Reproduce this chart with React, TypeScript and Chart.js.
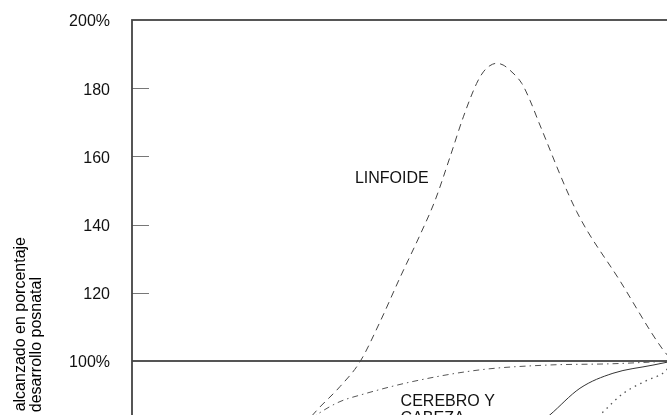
import React, { useEffect, useRef } from "react";
import { Chart, registerables } from "chart.js";

Chart.register(...registerables);

// ---- Data (age in years, value in % of postnatal growth) ----
const linfoideAges = [0, 2, 4, 5.5, 6.84, 7.69, 8.43, 9.17, 9.91, 10.65, 11.2, 11.76, 12.25, 12.74, 12.99, 13.23, 13.48, 13.72, 13.97, 14.41, 14.71, 15.08, 16.44, 18.04, 19.64, 20];
const linfoideValues = [5, 30, 56, 73, 85.6, 92.5, 99.8, 111.5, 124.5, 137, 147, 159.9, 171.6, 181.4, 184.8, 186.6, 187.3, 186.8, 185.3, 181.4, 176.5, 169.2, 143.8, 123.5, 103.2, 100];

const cerebroAges = [0, 2, 4, 6, 6.9, 7.69, 8.43, 10.39, 12.86, 15.34, 17.78, 20];
const cerebroValues = [25, 58, 72, 79, 84.6, 88.1, 90, 94, 97.4, 98.8, 99.2, 100];

const generalAges = [0, 2, 6, 10, 12, 14, 15.45, 16.56, 17.78, 19.26, 20];
const generalValues = [5, 30, 45, 55, 62, 75, 84.2, 92, 96.4, 98.8, 100];

const reproductivoAges = [0, 10, 12, 14, 16, 17.42, 18.16, 19.03, 19.7, 20];
const reproductivoValues = [10, 12, 20, 50, 74, 85.1, 90.5, 94.3, 96.9, 100];

const yMin = 0;
const yMax = 200;
const yStep = 20;
const referenceValue = 100;
const xMin = 0;
const xMax = 20;

const yTitleLines = ["Tamaño alcanzado en porcentaje", "del desarrollo posnatal"];

// curve labels: text, anchor age, anchor value (baseline, left aligned)
const curveLabels = [
  { text: "LINFOIDE", age: 8.24, value: 152.1 },
  { text: "CEREBRO Y", age: 9.93, value: 86.8 },
  { text: "CABEZA", age: 9.93, value: 81.8 },
];

const FONT = "'Liberation Sans', Arial, Helvetica, sans-serif";

function toPoints(xs: number[], ys: number[]) {
  return xs.map((x, i) => ({ x, y: ys[i] }));
}

const decorPlugin = {
  id: "scammonDecor",
  beforeDatasetsDraw(chart: any) {
    const { ctx, chartArea, scales } = chart;
    const y = scales.y;
    ctx.save();
    // inner tick marks
    ctx.strokeStyle = "#777";
    ctx.lineWidth = 1;
    y.ticks.forEach((t: any) => {
      if (t.value % 100 === 0) return;
      const py = Math.round(y.getPixelForValue(t.value)) + 0.5;
      ctx.beginPath();
      ctx.moveTo(chartArea.left, py);
      ctx.lineTo(chartArea.left + 17, py);
      ctx.stroke();
    });
    // 100% reference line
    const ry = y.getPixelForValue(referenceValue);
    ctx.strokeStyle = "#555";
    ctx.lineWidth = 1.8;
    ctx.beginPath();
    ctx.moveTo(chartArea.left, ry);
    ctx.lineTo(chartArea.right, ry);
    ctx.stroke();
    ctx.restore();
  },
  afterDatasetsDraw(chart: any) {
    const { ctx, chartArea, scales } = chart;
    const x = scales.x;
    const y = scales.y;
    ctx.save();
    // frame
    ctx.strokeStyle = "#444";
    ctx.lineWidth = 1.8;
    ctx.strokeRect(chartArea.left, chartArea.top, chartArea.right - chartArea.left, chartArea.bottom - chartArea.top);
    // curve labels
    ctx.fillStyle = "#111";
    ctx.font = `16px ${FONT}`;
    ctx.textAlign = "left";
    ctx.textBaseline = "alphabetic";
    curveLabels.forEach((l) => {
      ctx.fillText(l.text, x.getPixelForValue(l.age), y.getPixelForValue(l.value));
    });
    // y axis title (rotated), anchored at the end of each line
    ctx.fillStyle = "#000";
    ctx.font = `16px ${FONT}`;
    ctx.textAlign = "right";
    ctx.textBaseline = "alphabetic";
    const ends = [chartArea.top + 217, chartArea.top + 257];
    yTitleLines.forEach((line, i) => {
      ctx.save();
      ctx.translate(25 + i * 16, ends[i]);
      ctx.rotate(-Math.PI / 2);
      ctx.fillText(line, 0, 0);
      ctx.restore();
    });
    ctx.restore();
  },
};

export default function App() {
  const ref = useRef<HTMLCanvasElement | null>(null);

  useEffect(() => {
    if (!ref.current) return;
    const lineBase = {
      pointRadius: 0,
      fill: false,
      cubicInterpolationMode: "monotone" as const,
      borderWidth: 1,
    };
    const chart = new Chart(ref.current, {
      type: "line",
      data: {
        datasets: [
          {
            ...lineBase,
            label: "Linfoide",
            data: toPoints(linfoideAges, linfoideValues),
            borderColor: "#444",
            borderDash: [7, 5],
          },
          {
            ...lineBase,
            label: "Cerebro y cabeza",
            data: toPoints(cerebroAges, cerebroValues),
            borderColor: "#555",
            borderDash: [6, 4, 1.5, 4],
          },
          {
            ...lineBase,
            label: "General",
            data: toPoints(generalAges, generalValues),
            borderColor: "#333",
          },
          {
            ...lineBase,
            label: "Reproductivo",
            data: toPoints(reproductivoAges, reproductivoValues),
            borderColor: "#555",
            borderWidth: 1.3,
            borderDash: [1.5, 4.5],
          },
        ],
      },
      options: {
        animation: false,
        responsive: false,
        devicePixelRatio: 1,
        layout: { padding: { left: 0, top: 20, right: 27, bottom: 58 } },
        plugins: { legend: { display: false }, tooltip: { enabled: false } },
        scales: {
          x: {
            type: "linear",
            min: xMin,
            max: xMax,
            display: false,
          },
          y: {
            min: yMin,
            max: yMax,
            afterFit: (scale: any) => {
              scale.width = 132;
              scale.paddingTop = 0;
              scale.paddingBottom = 0;
            },
            grid: { display: false, drawTicks: false },
            border: { display: false },
            ticks: {
              stepSize: yStep,
              padding: 22,
              labelOffset: 2,
              color: "#111",
              font: { family: FONT, size: 16 },
              callback: (v: any) => (Number(v) % 100 === 0 ? `${v}%` : `${v}`),
            },
          },
        },
      },
      plugins: [decorPlugin],
    });
    return () => chart.destroy();
  }, []);

  return (
    <div
      style={{
        position: "fixed",
        left: 0,
        top: 0,
        width: 667,
        height: 415,
        overflow: "hidden",
        background: "#fff",
      }}
    >
      <canvas ref={ref} width={700} height={760} style={{ display: "block", width: 700, height: 760 }} />
    </div>
  );
}
